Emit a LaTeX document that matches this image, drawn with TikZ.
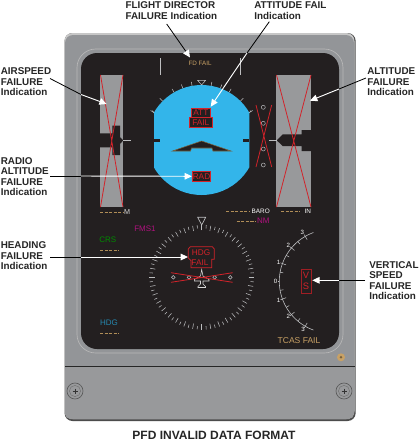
\documentclass[tikz,border=0pt]{standalone}
\usepackage{fontspec}
\setmainfont{Liberation Sans}
\usetikzlibrary{arrows.meta}
\definecolor{bez}{HTML}{939598}
\definecolor{bezlow}{HTML}{98999B}
\definecolor{scr}{HTML}{231F20}
\definecolor{sky}{HTML}{33B5EA}
\definecolor{fred}{HTML}{D2232A}
\definecolor{dred}{HTML}{A01E24}
\definecolor{amber}{HTML}{C8A165}
\definecolor{dashc}{HTML}{B08D57}
\definecolor{mag}{HTML}{B0127F}
\definecolor{tap}{HTML}{98999B}
\definecolor{tic}{HTML}{BDBEC0}
\tikzset{
 lab/.style={font=\fontsize{7.4}{7.9}\selectfont\bfseries,align=left,inner sep=0pt,text=black!85},
 captiontext/.style={font=\fontsize{9}{10}\selectfont\bfseries,inner sep=0pt,text=black!85},
 lead/.style={black,line width=0.6pt},
 leadw/.style={white,line width=0.7pt,-{Triangle[length=5.5pt,width=5pt]}},
 xmark/.style={fred,line width=0.6pt},
 tk/.style={tic,line width=0.4pt},
 fbox/.style={draw=fred,fill=scr,line width=0.6pt},
 ftxt/.style={font=\fontsize{6.2}{7}\selectfont,text=fred,inner sep=0pt},
 disp/.style={font=\fontsize{6}{7}\selectfont,inner sep=0pt},
 dsh/.style={dashc,line width=0.6pt,dash pattern=on 2.4pt off 1pt},
 vsn/.style={font=\fontsize{4.6}{5}\selectfont,text=white,inner sep=0pt},
 dotmark/.style={draw=tic,line width=0.35pt,fill=scr}
}
\begin{document}
\begin{tikzpicture}[x=0.75pt,y=-0.75pt]
\useasboundingbox (0,0) rectangle (419,444);
\fill[white] (0,0) rectangle (419,444);
% bezel
\fill[black!70,rounded corners=6pt] (64.5,33) rectangle (355.7,421);
\fill[black!22,rounded corners=6pt] (64.5,33) rectangle (354.5,419);
\fill[bez,rounded corners=6pt] (65,35) rectangle (354,419);
\fill[bezlow,rounded corners=4pt] (65,366) rectangle (354,419);
\draw[black!85,line width=0.6pt] (65,366) -- (355,366);
\draw[black!28,line width=0.5pt,rounded corners=14pt] (77,49) rectangle (343,353);
% screen
\fill[scr,rounded corners=12pt] (81,53) rectangle (339,349);
% tapes
\fill[tap] (100,75) rectangle (123,207);
\fill[tap] (276,75) rectangle (311,207);
\fill[scr] (99.5,133.3) -- (112.3,133.3) -- (112.3,125.7) -- (120,125.7) -- (120,137) -- (123.3,140.3) -- (120,144) -- (120,155) -- (112.3,155) -- (112.3,147.3) -- (99.5,147.3) -- cycle;
\fill[scr] (276.7,140.3) -- (282.7,134.3) -- (301.7,134.3) -- (301.7,130) -- (311.5,130) -- (311.5,151) -- (301.7,151) -- (301.7,146) -- (282.7,146) -- cycle;
\draw[tk] (123.3,140.3) -- (130.7,140.3);
\draw[tk] (269.3,140.3) -- (276.7,140.3);
\draw[xmark] (100.5,75) -- (123,207) (123,75) -- (100.5,207);
\draw[xmark] (276.5,207) -- (311,75) (276.5,75) -- (311,207);
% roll scale
\foreach \a in {-60,-45,-30,-20,-10,10,20,30,45,60}
 \draw[tk] ([shift={(\a-90:55)}]201.6,140) -- ([shift={(\a-90:59)}]201.6,140);
\draw[tk] (154,113) -- (152.5,110.5) (249.3,113) -- (251,110.5);
% attitude
\begin{scope}
\clip (154,80) rectangle (249.3,200);
\fill[sky] (201.6,140) circle[radius=41.25pt];
\end{scope}
\draw[tic,line width=0.4pt] (197.6,80.3) -- (205.6,80.3) -- (201.6,85) -- cycle;
\fill[scr] (154,138.6) rectangle (160,141.6);
\fill[scr] (243,138.6) rectangle (249.3,141.6);
\draw[amber!60!black,fill=scr,line width=0.4pt] (201.6,141) -- (231,151) -- (213,151) -- (212,148) -- (191.5,148) -- (190.5,151) -- (172.5,151) -- cycle;
\draw[fbox] (189.3,117.3) rectangle (212.7,127);
\draw[fbox] (191,108.3) rectangle (210.7,117.3);
\node[ftxt] (att) at (200.8,112.8) {ATT};
\node[ftxt] (fail) at (200.8,122.2) {FAIL};
\node[ftxt,draw=fred,fill=scr,line width=0.6pt,minimum width=13.8pt,minimum height=7.5pt] (rad) at (201.5,176.3) {RAD};
% vertical deviation
\foreach \y in {107.3,123.3,149,165} \draw[dotmark] (263.3,\y) circle[radius=1.5pt];
\draw[xmark] (256,105) -- (271.7,167) (271.7,105) -- (256,167);
% texts
\node[disp,text=amber,font=\fontsize{4.7}{5}\selectfont] (fd) at (200,63.5) {FD FAIL};
\draw[tk,line width=0.4pt] (160.3,58) -- (160.3,74.7) (240.3,58) -- (240.3,74.7);
\draw[dsh] (100,212) -- (123,212);
\node[disp,text=white!85!black,font=\fontsize{5.4}{6}\selectfont] (mach) at (127,212) {M};
\draw[dsh] (226,211.5) -- (250,211.5);
\node[disp,text=white,font=\fontsize{4.8}{5}\selectfont] (baro) at (260.7,211.5) {BARO};
\draw[dsh] (281,211.5) -- (300,211.5);
\node[disp,text=white,font=\fontsize{4.8}{5}\selectfont] (inch) at (307.7,211) {IN};
\draw[dsh] (236.7,221) -- (255,221);
\node[disp,text=mag,font=\fontsize{6}{7}\selectfont] (nm) at (263.3,220.3) {NM};
\node[disp,text=mag] (fms) at (145,228.7) {FMS1};
\node[disp,text=green!55!black] (crs) at (107.7,239.3) {CRS};
\draw[dsh] (100,250.3) -- (119.3,250.3);
\node[disp,text=sky!75!black] (hdg) at (109,322.3) {HDG};
\draw[dsh] (100,333.3) -- (119.3,333.3);
\node[disp,text=amber,font=\fontsize{6.4}{7}\selectfont] (tcas) at (299,340.7) {TCAS FAIL};
% compass
\coordinate (C) at (201.7,277.3);
\foreach \a in {0,5,...,355}{
 \pgfmathsetmacro{\ri}{mod(\a,10)==0?47:49}
 \draw[tk] ([shift={(\a:\ri)}]C) -- ([shift={(\a:52.3)}]C);
}
\draw[tic,line width=0.5pt] (197.7,217.3) -- (205.7,217.3) -- (201.7,225) -- cycle;
\draw[tic,line width=0.4pt] (201.7,225) -- (201.7,230);
\draw[fred,line width=0.55pt] (190.3,246.7) -- (212.3,246.7) -- (214.3,249) -- (214.3,259.3) -- (211.7,259.3) -- (211.7,267.7) -- (191,267.7) -- (191,260.5) -- (188.3,258) -- (188.3,249) -- cycle;
\node[ftxt] (hdgt) at (201,252.7) {HDG};
\node[ftxt] (hdgf) at (200,262.3) {FAIL};
\foreach \x in {173.3,189,214.7,230.3} \draw[tic,line width=0.4pt] (\x,277.3) circle[radius=1.4pt];
\draw[white!85!black,line width=0.4pt] (200.5,276) -- (201.7,269.5) -- (203,276) -- (209,279.5) -- (209,281) -- (203,281) -- (203,284) -- (205.5,286.5) -- (205.5,287.5) -- (198,287.5) -- (198,286.5) -- (200.5,284) -- (200.5,281) -- (194.3,281) -- (194.3,279.5) -- cycle;
\draw[xmark] (171,272.7) -- (232.7,282.3) (171,282.3) -- (232.7,272.7);
% vertical speed
\coordinate (V) at (331.2,281.3);
\draw[tk,line width=0.45pt,domain=110:250,samples=50,smooth,variable=\t] plot ({331.2+51.9*cos(\t)},{281.3+51.9*sin(\t)});
\foreach \a in {120,140,160,200,220,240} \draw[tk] ([shift={(\a:48)}]V) -- ([shift={(\a:54)}]V);
\foreach \a in {130,150,170,190,210,230} \draw[tk] ([shift={(\a:48.5)}]V) -- ([shift={(\a:51.9)}]V);
\draw[tk] (277.5,281.3) -- (279.3,281.3);
\node[vsn] (v3a) at (302.3,232.7) {3};
\node[vsn] (v2a) at (288.3,245.3) {2};
\node[vsn] (v1a) at (278.7,262.3) {1};
\node[vsn] (v0) at (275.7,281.3) {0};
\node[vsn] (v1b) at (278.7,300) {1};
\node[vsn] (v2b) at (288.3,316.7) {2};
\node[vsn] (v3b) at (303,329.3) {3};
\draw[dred,line width=0.5pt] (301.3,269.3) rectangle (311.7,293.7);
\node[ftxt,font=\fontsize{7}{8}\selectfont] (vt) at (306,275.3) {V};
\node[ftxt,font=\fontsize{7}{8}\selectfont] (st) at (306,286.7) {S};
% screws and dot
\foreach \x in {75,344}{
 \draw[black!65,fill=bezlow,line width=0.5pt] (\x,391) circle[radius=6pt];
 \draw[black!55,line width=0.35pt] (\x,391) circle[radius=4.2pt];
 \draw[black!80,line width=0.7pt] (\x-2.5,391) -- (\x+2.5,391) (\x,388.5) -- (\x,393.5);
}
\fill[amber] (341,357.3) circle[radius=3pt];
\fill[amber!60!black] (341,357.3) circle[radius=1pt];
% labels
\node[lab,anchor=north west] (lfd) at (125.3,1.5) {FLIGHT DIRECTOR\\FAILURE Indication};
\node[lab,anchor=north west] (latt) at (254,1.5) {ATTITUDE FAIL\\Indication};
\node[lab,anchor=north west] (lair) at (0.5,67.5) {AIRSPEED\\FAILURE\\Indication};
\node[lab,anchor=north west] (lalt) at (367,67.5) {ALTITUDE\\FAILURE\\Indication};
\node[lab,anchor=north west] (lrad) at (0.5,157) {RADIO\\ALTITUDE\\FAILURE\\Indication};
\node[lab,anchor=north west] (lhdg) at (0.5,241.5) {HEADING\\FAILURE\\Indication};
\node[lab,anchor=north west] (lvs) at (369,261) {VERTICAL\\SPEED\\FAILURE\\Indication};
\node[captiontext] (title) at (214,435) {PFD INVALID DATA FORMAT};
% leaders
\coordinate (a0) at (50,78.5); \coordinate (a1) at (81,94.5); \coordinate (a2) at (106.7,104);
\draw[lead] (a0) -- (a1); \draw[leadw] (a1) -- (a2);
\coordinate (f0) at (166.7,24); \coordinate (f1) at (187,53); \coordinate (f2) at (190,57.5);
\draw[lead] (f0) -- (f1); \draw[leadw] (f1) -- (f2);
\coordinate (t0) at (269.3,21.7); \coordinate (t1) at (247,53); \coordinate (t2) at (210.7,106.7);
\draw[lead] (t0) -- (t1); \draw[leadw] (t1) -- (t2);
\coordinate (h0) at (366,78); \coordinate (h1) at (339,89); \coordinate (h2) at (310,100.7);
\draw[lead] (h0) -- (h1); \draw[leadw] (h1) -- (h2);
\coordinate (r0) at (50,176); \coordinate (r1) at (81,176);
\draw[lead] (r0) -- (r1); \draw[leadw] (r1) -- (rad.west);
\coordinate (g0) at (50,257); \coordinate (g1) at (81,257); \coordinate (g2) at (188,257);
\draw[lead] (g0) -- (g1); \draw[leadw] (g1) -- (g2);
\coordinate (s0) at (365,280.3); \coordinate (s1) at (339,280.3); \coordinate (s2) at (312.3,280.3);
\draw[lead] (s0) -- (s1); \draw[leadw] (s1) -- (s2);
\end{tikzpicture}
\end{document}
